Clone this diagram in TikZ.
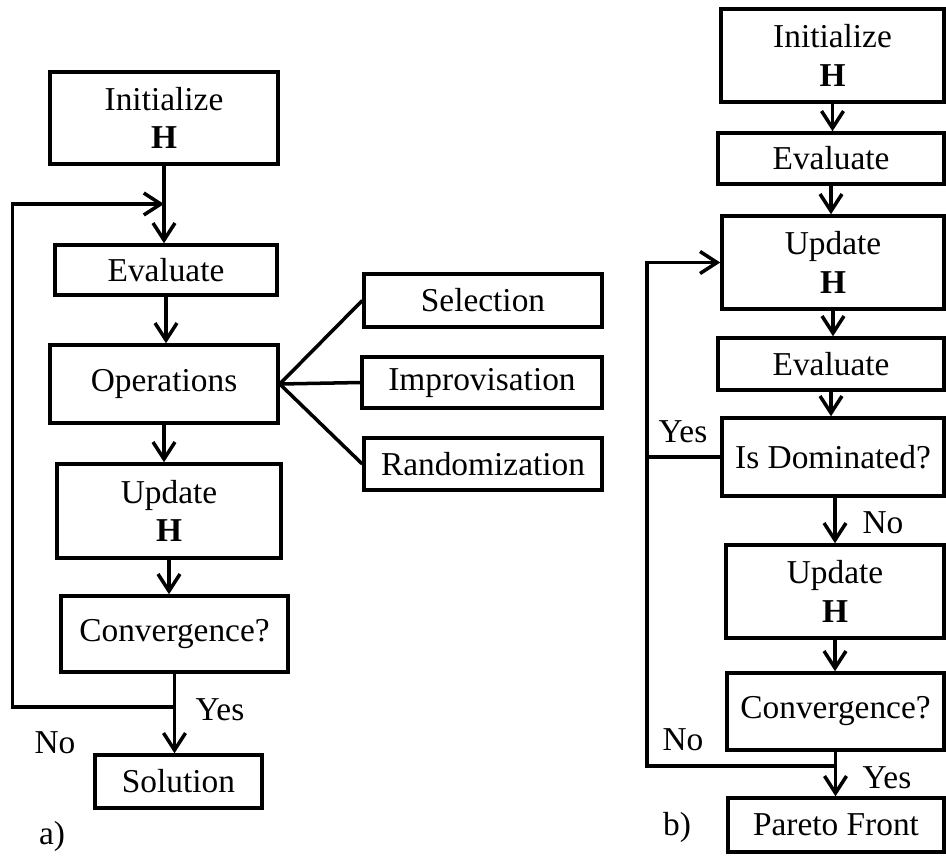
\documentclass[tikz,border=0pt]{standalone}
\usepackage{fontspec}
\setmainfont{Liberation Serif}
\usetikzlibrary{arrows.meta, positioning}

\tikzset{
  box/.style={draw, line width=2pt, align=center, inner sep=2pt,
              font=\fontsize{19}{22}\selectfont},
  flow/.style={line width=2pt, -{Straight Barb[length=0.34cm, width=0.44cm, line width=2pt]}},
  link/.style={line width=2pt},
  lbl/.style={font=\fontsize{19}{22}\selectfont, inner sep=0pt},
}

\begin{document}
\begin{tikzpicture}[x=0.02cm, y=-0.02cm]
    \useasboundingbox (0,0) rectangle (946,856);

    % a) single objective
    \node[box, minimum width=4.56cm, minimum height=1.84cm] (init1) at (164,118) {Initialize\\\textbf{H}};
    \node[box, minimum width=4.44cm, minimum height=1.00cm] (eval1) at (166,270) {Evaluate};
    \node[box, minimum width=4.56cm, minimum height=1.56cm] (ops) at (164,384) {Operations};
    \node[box, minimum width=4.48cm, minimum height=1.88cm] (upd1) at (169,511) {Update\\\textbf{H}};
    \node[box, minimum width=4.54cm, minimum height=1.52cm] (conv1) at (174.5,634) {Convergence?};
    \node[box, minimum width=3.34cm, minimum height=1.06cm] (sol) at (178.5,781.5) {Solution};
    \node[box, minimum width=4.76cm, minimum height=1.06cm] (sel) at (483,300.5) {Selection};
    \node[box, minimum width=4.80cm, minimum height=1.02cm] (imp) at (482,382.5) {Improvisation};
    \node[box, minimum width=4.76cm, minimum height=1.04cm] (rnd) at (483,464) {Randomization};

    \draw[flow] (init1.south) -- (init1.south |- eval1.north);
    \draw[flow] (eval1.south) -- (eval1.south |- ops.north);
    \draw[flow] (ops.south) -- (ops.south |- upd1.north);
    \draw[flow] (upd1.south) -- (upd1.south |- conv1.north);
    \draw[flow] (conv1.south) -- (conv1.south |- sol.north);
    \foreach \b in {sel, imp, rnd}
      \draw[link] (ops.east) -- (\b.west);

    \coordinate (lj) at (conv1.south |- 0,707);
    \coordinate (lt) at (init1.south |- 0,204);
    \draw[flow] (lj) -- ++(-162,0) |- (lt);

    \node[lbl] (yes1) at (220,710) {Yes};
    \node[lbl] (no1) at (55,743) {No};
    \node[lbl] (capa) at (52,836) {a)};

    % b) multi objective
    \node[box, minimum width=4.46cm, minimum height=1.86cm] (init2) at (832.5,55.5) {Initialize\\\textbf{H}};
    \node[box, minimum width=4.52cm, minimum height=1.02cm] (eval2) at (831,158.5) {Evaluate};
    \node[box, minimum width=4.44cm, minimum height=1.86cm] (upd2) at (833,262.5) {Update\\\textbf{H}};
    \node[box, minimum width=4.52cm, minimum height=1.04cm] (eval3) at (831,364) {Evaluate};
    \node[box, minimum width=4.44cm, minimum height=1.56cm] (dom) at (833,457) {Is Dominated?};
    \node[box, minimum width=4.36cm, minimum height=1.86cm] (upd3) at (835,591.5) {Update\\\textbf{H}};
    \node[box, minimum width=4.34cm, minimum height=1.54cm] (conv2) at (835.5,711.5) {Convergence?};
    \node[box, minimum width=4.32cm, minimum height=1.08cm] (pareto) at (836,825) {Pareto Front};

    \draw[flow] (init2.south) -- (init2.south |- eval2.north);
    \draw[flow] (eval2.south) -- (eval2.south |- upd2.north);
    \draw[flow] (upd2.south) -- (upd2.south |- eval3.north);
    \draw[flow] (eval3.south) -- (eval3.south |- dom.north);
    \draw[flow] (upd3.north |- dom.south) -- (upd3.north);
    \draw[flow] (upd3.south) -- (upd3.south |- conv2.north);
    \draw[flow] (conv2.south) -- (conv2.south |- pareto.north);

    \coordinate (rj) at (conv2.south |- 0,766);
    \coordinate (rail) at (647,766);
    \draw[flow] (rj) -- (rail) |- (upd2.west);
    \draw[link] (dom.west) -- (dom.west -| rail);

    \node[lbl] (yes2) at (683,432) {Yes};
    \node[lbl] (no2) at (883,523) {No};
    \node[lbl] (no3) at (683,740) {No};
    \node[lbl] (yes3) at (887,778) {Yes};
    \node[lbl] (capb) at (677,827) {b)};
\end{tikzpicture}
\end{document}
